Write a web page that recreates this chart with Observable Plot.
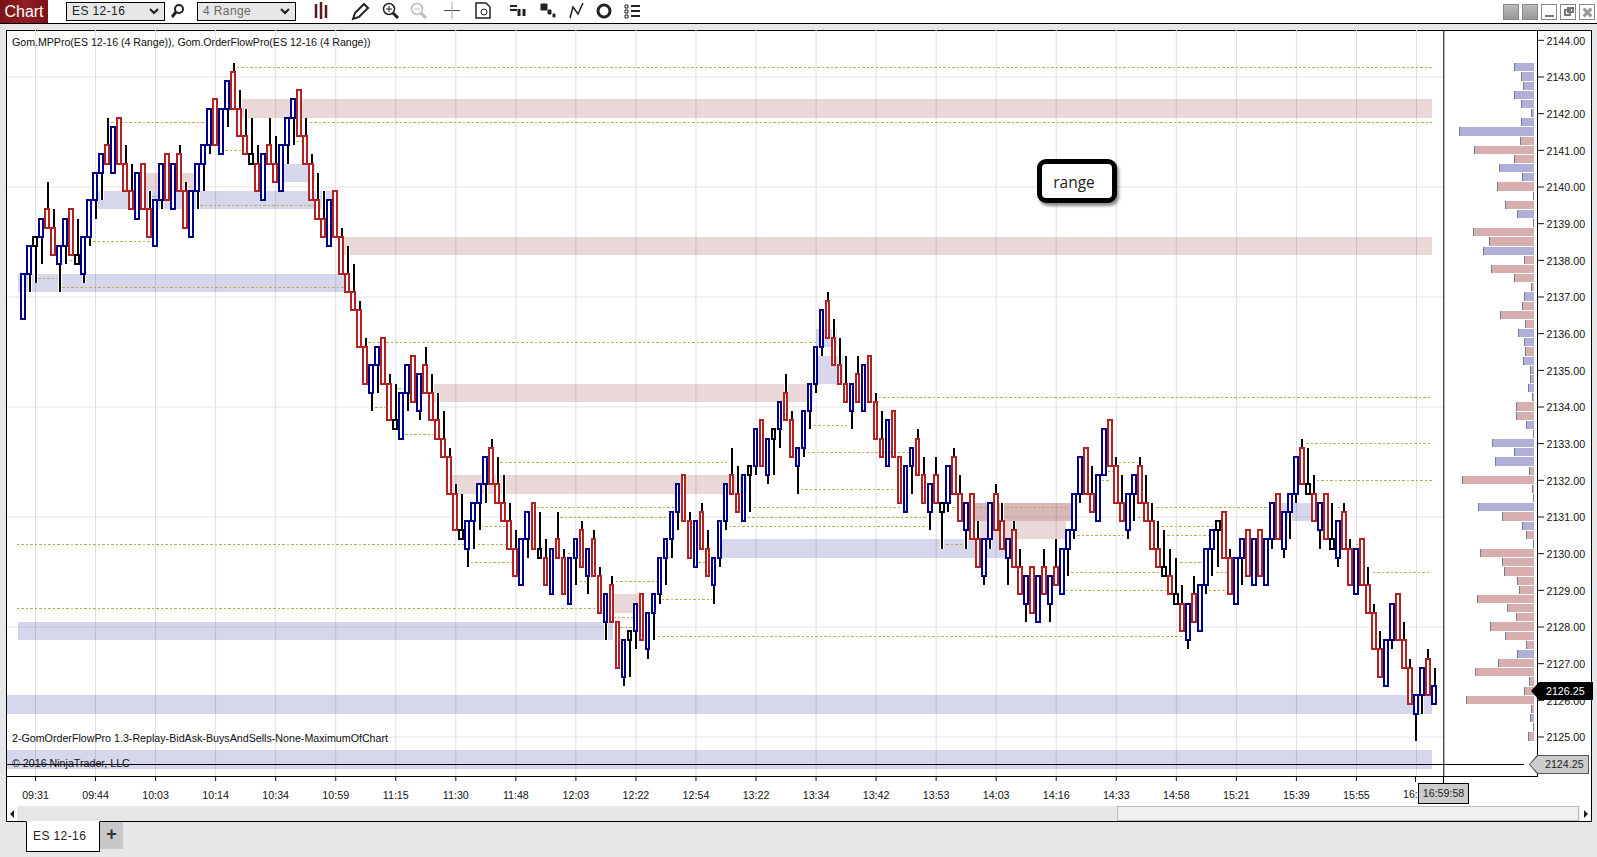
<!DOCTYPE html>
<html>
<head>
<meta charset="utf-8">
<script src="https://cdn.jsdelivr.net/npm/d3@7"></script>
<script src="https://cdn.jsdelivr.net/npm/@observablehq/plot@0.6"></script>
<style>
html,body{margin:0;padding:0;width:1597px;height:857px;overflow:hidden;background:#e6e7e8;font-family:"Liberation Sans",Arial,sans-serif;color:#000}
.a{position:absolute;box-sizing:border-box}
#plot{position:absolute;left:0;top:0}
#plot svg{display:block}
.t{position:absolute;font-size:10.68px;white-space:pre;line-height:12px;color:#111}
</style>
</head>
<body>
<div class="a" style="left:0;top:0;width:1597px;height:24px;background:#fff;border-bottom:1px solid #000"></div>
<div class="a" style="left:0;top:0;width:48px;height:23px;background:linear-gradient(90deg,#7a1216,#8e2024 50%,#7a1216);color:#fff;font-size:16px;line-height:23px;text-align:center">Chart</div>
<div class="a" style="left:66px;top:2px;width:99px;height:19px;background:#e6e7e8;border:1px solid #000;font-size:12px;line-height:17px;padding-left:5px;letter-spacing:.4px;color:#222">ES 12-16</div>
<div class="a" style="left:197px;top:2px;width:99px;height:19px;background:#e6e7e8;border:1px solid #000;font-size:12px;line-height:17px;padding-left:5px;letter-spacing:.4px;color:#666">4 Range</div>
<svg class="a" style="left:0;top:0" width="1597" height="23" fill="none" stroke="#222">
  <path d="M150 9l4 4 4-4M281 9l4 4 4-4" stroke-width="2"/>
  <circle cx="179" cy="9" r="4" stroke-width="2"/><path d="M176 12l-4 5" stroke-width="3"/>
  <path d="M316 4v14M321 2v17M326 5v13" stroke="#5a1a20" stroke-width="2.5"/>
  <path d="M353 19l2-6 9-9 4 4-9 9z" stroke-width="2"/>
  <circle cx="389" cy="9" r="5.5" stroke-width="1.5"/><path d="M393 13l5 5" stroke-width="3"/><path d="M386 9h6M389 6v6"/>
  <circle cx="417" cy="9" r="5.5" stroke="#bbb" stroke-width="1.5"/><path d="M421 13l5 5" stroke="#bbb" stroke-width="3"/><path d="M414 9h6" stroke="#bbb"/>
  <path d="M444 10.5h16" stroke="#444"/><path d="M452 2v17" stroke="#9ab"/>
  <path d="M476 3h10l4 4v11h-14z" stroke-width="1.5"/><circle cx="484" cy="12" r="3"/>
  <path d="M510 6h7M510 10h7" stroke-width="2"/><path d="M519 9v7M524 9v7" stroke-width="3"/>
  <path d="M541 4h6v6h-6zM548 10h3v4h-3zM553 14h2v3h-2z" fill="#222" stroke-width="1"/>
  <path d="M570 18l3-11 5 7 5-11" stroke-width="1.5"/>
  <circle cx="604" cy="11" r="6" stroke-width="3"/>
  <path d="M625 5h3v3h-3zM625 10h3v3h-3zM625 15h3v3h-3z" stroke-width="1"/><path d="M631 6h9M631 11h9M631 16h9" stroke-width="2"/>
</svg>
<div class="a" style="left:1503px;top:4px;width:16px;height:16px;background:linear-gradient(#bbb,#999);border:1px solid #888"></div>
<div class="a" style="left:1522px;top:4px;width:16px;height:16px;background:linear-gradient(#bbb,#999);border:1px solid #888"></div>
<div class="a" style="left:1541px;top:4px;width:16px;height:16px;background:#fff;border:1px solid #888"><div class="a" style="left:3px;top:10px;width:9px;height:2px;background:#777"></div></div>
<div class="a" style="left:1560px;top:4px;width:16px;height:16px;background:#fff;border:1px solid #888"><div class="a" style="left:3px;top:4px;width:7px;height:7px;border:2px solid #777"></div><div class="a" style="left:6px;top:2px;width:7px;height:6px;border:2px solid #777"></div></div>
<div class="a" style="left:1579px;top:4px;width:16px;height:16px;background:#fff;border:1px solid #888"><div class="a" style="left:2px;top:6px;width:11px;height:3px;background:#999;transform:rotate(45deg)"></div><div class="a" style="left:2px;top:6px;width:11px;height:3px;background:#999;transform:rotate(-45deg)"></div></div>

<!-- chart window -->
<div class="a" style="left:6px;top:30px;width:1586px;height:792px;background:#fff;border:1px solid #000"></div>
<div class="a" style="left:7px;top:806px;width:1584px;height:15px;background:#e6e6e6"></div>
<div class="a" style="left:1117px;top:806px;width:462px;height:15px;background:#f0f0f0;border:1px solid #bbb"></div>
<div class="a" style="left:7px;top:806px;width:10px;height:15px;background:#fff"></div>
<div class="a" style="left:1580px;top:806px;width:11px;height:15px;background:#fff"></div>
<div class="a" style="left:10px;top:810px;border:4px solid transparent;border-right:4px solid #222;border-left:0"></div>
<div class="a" style="left:1584px;top:810px;border:4px solid transparent;border-left:4px solid #222;border-right:0"></div>
<div class="a" style="left:6px;top:776px;width:1532px;height:1px;background:#000"></div>
<div class="a" style="left:1537px;top:30px;width:1px;height:747px;background:#000"></div>
<div class="a" style="left:1443px;top:776px;width:1px;height:7px;background:#000"></div>

<div id="plot"></div>

<div class="t" style="left:12px;top:36px;letter-spacing:-.04px">Gom.MPPro(ES 12-16 (4 Range)), Gom.OrderFlowPro(ES 12-16 (4 Range))</div>
<div class="t" style="left:12px;top:732px">2-GomOrderFlowPro 1.3-Replay-BidAsk-BuysAndSells-None-MaximumOfChart</div>
<div class="t" style="left:12px;top:757px">© 2016 NinjaTrader, LLC</div>

<div class="a" style="left:1037px;top:159px;width:80px;height:44px;background:#fff;border:5px solid #000;border-radius:9px;box-shadow:2px 3px 3px rgba(0,0,0,.45);font:15.5px/36px 'Open Sans',sans-serif;text-align:center;padding-right:6px;color:#222">range</div>

<div class="a" style="left:1531px;top:682px;width:62px;height:18px;background:#000;clip-path:polygon(0 50%,8px 0,100% 0,100% 100%,8px 100%);color:#fff;font-size:10.68px;line-height:18px;padding-left:15px">2126.25</div>
<div class="a" style="left:1529px;top:755px;width:60px;height:19px;background:#555;clip-path:polygon(0 50%,8px 0,100% 0,100% 100%,8px 100%)"></div>
<div class="a" style="left:1530px;top:756px;width:58px;height:17px;background:#ccc;clip-path:polygon(0 50%,8px 0,100% 0,100% 100%,8px 100%);font-size:10.68px;line-height:17px;padding-left:15px;color:#222">2124.25</div>

<div class="a" style="left:100px;top:822px;width:23px;height:27px;background:#c8c8c8;font-size:18px;font-weight:bold;line-height:25px;text-align:center;color:#333">+</div>
<div class="a" style="left:26px;top:821px;width:74px;height:31px;background:#fff;border:1px solid #000;border-top:1px solid #fff;font-size:12px;line-height:28px;padding-left:6px;letter-spacing:.4px;color:#222">ES 12-16</div>

<script>
// Prices are quoted above this base level.
const base = 2100;
const opens = [36.5,37.75,38.5,38.75,39.25,38.75,38,38.5,39.25,38,37.75,38.75,39.75,40.5,41,40.5,41.75,40.5,39.75,39.25,40.5,39.25,38.5,39.75,40.75,39.5,40.75,39.75,38.75,40,40.75,41.25,42.25,41,42.25,43,42,41.25,40.75,40.5,39.75,41,40.5,40,41.25,42,42.5,41.25,40.5,39.5,39,38.5,39.75,38.5,37.5,37,36.5,35.5,34.5,35.25,35.75,34.5,33.5,33.25,34.5,35.25,34,35,34.25,33.5,33,32.5,31.5,30.5,30.25,31,31.5,32,32.75,31.75,31.25,30.75,30,29.25,30.5,31.25,30,29.75,29,30.25,29.75,28.75,30,30.5,29.5,30.25,29.25,28.25,29,28,26.75,27.75,28,28.75,27.5,28.5,29,30,30.5,31.25,32,30.75,29.75,31,30,29.25,30,31,32,31.5,31,32.25,32.5,33.5,32.25,33.25,33.5,34.25,33.5,32.5,33,34,34.75,35.75,36.75,35.75,35,34.5,34,34.75,34,35.25,34,33,32.5,33.75,32.5,31.25,32.5,33,32,31.25,32,31.25,31.5,32.5,31.5,30.75,31.5,30.25,29.5,30.5,31.5,30.75,30,30.5,29.5,28.75,29.5,28.25,29.5,28.75,29.5,29,30.25,30.75,31.75,32.75,31.5,31,32.25,33.5,32.25,31.25,30.75,31.75,32.25,31.25,30.75,30,29.5,29.25,28.75,28.5,27.75,28.75,28,29.25,30.25,30.75,31,29.75,28.75,30,30.5,29.25,30.5,29.25,30.5,31.5,30.25,31.25,31.75,32.75,31.75,31.5,30.75,31.5,30.25,30,31,30,29,30.25,29,28.25,27.25,26.5,27.75,28.75,27.5,26.75,25.75,26.25,27,26];
const closes = [37.5,38.25,38.5,39,39,38.25,38.25,39,38.25,38,38.5,39.5,40.25,40.75,40.75,41.5,40.75,40,39.5,40.25,39.5,38.75,39.5,40.5,39.75,40.5,40,39,39.75,40.5,41,42,41.25,42,42.75,42.25,41.5,41,40.75,40,40.75,40.75,40.25,41,41.75,42.25,41.5,40.75,39.75,39.25,38.75,39.5,38.75,37.75,37.25,36.75,35.75,34.75,35,35.5,34.75,33.75,33.5,34.25,35,34.25,34.75,34.5,33.75,33.25,32.75,31.75,30.75,30.5,30.75,31.25,31.75,32.5,32,31.5,31,30.25,29.5,30.25,31,30.25,30,29.25,30,30,29,29.75,30.25,29.75,30,29.5,28.5,28.75,28.25,27,27.5,27.75,28.5,27.75,28.25,28.75,29.75,30.25,31,31.75,31,30,30.75,30.25,29.5,29.75,30.75,31.75,31.75,31.25,32,32.25,33.25,32.5,33,33.25,34,33.75,32.75,32.75,33.75,34.5,35.5,36.5,36,35.25,34.75,34.25,34.5,34.25,35,34.25,33.25,32.75,33.5,32.75,31.5,32.25,32.75,32.25,31.5,31.75,31.5,31.25,32.25,31.75,31,31.25,30.5,29.75,30.25,31.25,30.75,30.25,30.25,29.75,29,29.25,28.5,29.25,29,29.25,29.25,30,30.5,31.5,32.5,31.75,31.25,32,33.25,32.5,31.5,31,31.5,32,31.5,31,30.25,29.75,29.5,29,28.75,28,28.5,28.25,29,30,30.5,30.75,30,29,29.75,30.25,29.5,30.25,29.5,30.25,31.25,30.5,31,31.5,32.5,32,31.75,31,31.25,30.5,30.25,30.75,30.25,29.25,30,29.25,28.5,27.5,26.75,27.5,28.5,27.75,27,26,26,26.75,26.25,26.25];
const highs = [37.5,38.25,38.5,39,40,39.25,38.25,39,39.25,39,38.5,39.5,40.25,40.75,41.75,41.5,41.75,41,40.5,40.25,40.5,39.75,39.5,40.5,40.75,40.5,41,40,39.75,40.5,41,42,42.25,42,42.75,43.25,42.5,42,41.75,41,40.75,41.75,41.25,41,41.75,42.25,42.5,41.75,40.75,40.25,39.75,39.5,39.75,38.75,38.25,37.75,36.75,35.75,35,35.5,35.75,34.75,34.5,34.25,35,35.25,34.75,35.5,34.75,34.25,33.75,32.75,31.75,31.5,30.75,31.25,31.75,32.5,33,32.5,32,31.25,30.5,30.25,31,31.25,31,30.25,30,31,30,29.75,30.25,30.75,30,30.5,29.5,28.75,29.25,28,27.5,27.75,28.5,28.75,28.25,28.75,29.75,30.25,31,31.75,32,31,30.75,31.25,30.5,29.75,30.75,31.75,32.75,32.25,32,32.25,33.25,33.5,33,33.25,34,34.75,33.75,32.75,33.75,34.5,35.5,36.5,37,36.25,35.75,35.25,34.5,35.25,35,35.25,34.25,33.75,33.5,33.75,32.5,32.25,32.75,33.25,32.5,31.75,32.5,31.25,32.25,32.75,32,31.25,31.5,30.75,30.25,31.25,31.75,31.25,30.25,30.75,30,29.25,29.5,29.25,30,29.25,30.25,30,30.5,31.5,32.5,32.75,32.25,32,33.25,33.5,32.5,32,31.5,32,32.5,32,31.25,30.75,30.5,30,29.75,29,28.5,29.25,29,30,30.5,30.75,31,30,29.75,30.25,30.5,30.25,30.5,30.25,31.25,31.5,31,31.5,32.5,33,32.75,32,31.25,31.5,31.25,30.75,31.25,30.25,30,30.25,29.5,28.5,27.75,27.5,28.5,28.75,28,27,26,26.75,27.25,26.75];
const lows = [36.5,37.25,37.5,38,39,38.25,37.25,38,38.25,38,37.5,38.5,39.25,39.75,40.75,40.5,40.75,40,39.5,39.25,39.5,38.75,38.5,39.5,39.75,39.5,40,39,38.75,39.5,40,41,41.25,41,41.75,42.25,41.5,41,40.75,40,39.75,40.75,40.25,40,40.75,41.25,41.5,40.75,39.75,39.25,38.75,38.5,38.75,37.75,37.25,36.75,35.75,34.75,34,34.5,34.75,33.75,33.5,33.25,34,34.25,33.75,34.5,33.75,33.25,32.75,31.75,30.75,30.5,29.75,30.25,30.75,31.5,32,31.5,31,30.25,29.5,29.25,30,30.25,30,29.25,29,30,29,28.75,29.25,29.75,29,29.5,28.5,27.75,28.25,27,26.5,26.75,27.5,27.75,27.25,27.75,28.75,29.25,30,30.75,31,30,29.75,30.25,29.5,28.75,29.75,30.75,31.75,31.25,31,31.25,32.25,32.5,32,32.25,33,33.75,32.75,31.75,32.75,33.5,34.5,35.5,36,35.25,34.75,34.25,33.5,34.25,34,34.25,33.25,32.75,32.5,32.75,31.5,31.25,31.75,32.25,31.5,30.75,31.5,30.25,31.25,31.75,31,30.25,30.5,29.75,29.25,30.25,30.75,30.25,29.25,29.75,29,28.25,28.5,28.25,29,28.25,29.25,29,29.5,30.5,31.5,31.75,31.25,31,32.25,32.5,31.5,31,30.5,31,31.5,31,30.25,29.75,29.5,29,28.75,28,27.5,28.25,28,29,29.5,29.75,30,29,28.75,29.25,29.5,29.25,29.5,29.25,30.25,30.5,30,30.5,31.5,32,31.75,31,30.25,30.5,30.25,29.75,30.25,29.25,29,29.25,28.5,27.5,26.75,26.5,27.5,27.75,27,26,25,25.75,26.25,26];

// Zones: kind, low row, high row, first bar, last bar.
const zoneKind  = ["p","p","p","p","p","p","p","p","p","b","b","b","b","b","b","b","b","b","b"];
const zoneLow   = [2142,2138.25,2134.25,2131.75,2128.5,2140,2131,2131,2130.5,2137.25,2139.5,2140.25,2125.75,2124.25,2127.75,2130,2135.75,2134.75,2131];
const zoneHigh  = [2142.25,2138.5,2134.5,2132,2128.75,2140.25,2131.25,2131.25,2130.75,2137.5,2139.75,2140.5,2126,2124.5,2128,2130.25,2136,2135.25,2131.25];
const zoneStart = [36,53,68,71.4,98,20.3,158,158,159,-0.9,12.3,43.3,-2.65,-2.65,-0.9,116.2,132,132.3,209.5];
const zoneEnd   = [234.6,234.6,131.5,120.6,103.5,29,174.6,174.6,173.7,53.7,52,48.7,234.6,234.6,98.3,165.6,135.6,136.6,217.5];

// Dotted price levels.
const dotPrice = [2143.25,2141.75,2141.75,2141,2141.25,2139.5,2139.75,2138.5,2138,2137.5,2137.25,2135.75,2134.5,2134,2133.25,2132.5,2131.25,2131,2130.75,2130.25,2130.25,2129.75,2130,2129.25,2129.25,2128.75,2129.75,2128.5,2128.25,2128,2127.75,2134.25,2133.5,2132.75,2131.75,2131.25,2131.25,2131.25,2131,2130.75,2130.25,2132.5,2132.25,2132,2132,2133,2131,2130.75,2130.5,2130.5,2129.75,2129.5,2129.5,2129.5,2129,2129,2131.25,2130.25];
const dotStart = [35.6,14.7,47,33.7,45.6,29.5,21.5,11.7,7.8,2.5,6.5,57.5,62.5,58.7,63.7,79.5,85.6,89.5,76.2,-1,75.7,74.6,90.7,92.7,98.7,106.4,112.5,-1,98.3,99.5,105.7,142.5,131.7,130.7,129.5,121.7,152.5,188.7,120.7,117.5,153,182.5,180.7,179.7,215.5,213.7,185.7,189.6,175.6,190.6,192.7,174.6,198,224.8,173.7,197.5,219,222];
const dotEnd   = [234.6,30.5,234.6,36.4,46.7,48.7,22.5,21.5,8.7,5.7,53.7,132.3,63.7,60.3,68.3,117.3,108.7,107.5,80.3,73.5,80.7,81.7,91.7,93.7,105.7,114.7,113.7,95.4,101.7,101.7,193.3,234.6,137.3,147.5,145.3,146.2,174,207.5,150.7,150.7,156.7,185.7,181.7,181,234.6,234.6,186.7,198.3,183.3,197.8,196.5,189.5,200.7,234.4,190.6,200.7,220,223];

// Volume profile, top row to bottom row.
const profileTop = 2143.25;
const profileSides = ["b","b","b","b","b","b","b","b","r","r","r","b","b","r","r","r","b","r","r","r","b","r","r","r","r","b","r","r","r","b","b","r","b","b","b","b","r","r","r","b","r","b","b","b","r","r","r","r","b","r","b","r","r","r","r","r","r","r","r","r","r","r","r","r","b","r","r","r","r","r","r","b","r","r"];
const profileVolume = [19.7,12.7,10.7,19.7,12.7,2.7,12.7,74.7,13.7,59.7,19.7,34.7,11.7,36.7,0.7,28.7,16.7,0.7,60.7,44.7,50.7,9.7,42.7,19.7,2.7,9.7,11.7,33.7,8.7,15.7,9.7,8.7,10.7,3.7,3.7,5.7,1.7,17.7,17.7,7.7,0.7,41.7,19.7,38.7,4.7,71.7,1.7,0.5,55.7,31.7,11.7,7.7,0.7,53.7,31.7,29.7,16.7,14.7,56.7,26.7,17.7,43.7,28.7,7.7,16.7,35.7,58.7,4.7,9.7,67.7,2.7,3.7,0.7,5.7];

// Axes.
const priceTicks = d3.range(2125, 2145);
const gridPrices = [2143,2140,2137,2134,2131,2128,2125];
const timeBars = [2,12,22,32,42,52,62,72,82,92,102,112,122,132,142,152,162,172,182,192,202,212,222];
const timeLabels = ["09:31","09:44","10:03","10:14","10:34","10:59","11:15","11:30","11:48","12:03","12:22","12:54","13:22","13:34","13:42","13:53","14:03","14:16","14:33","14:58","15:21","15:39","15:55"];
const lastTimeBar = 232;
const cursorPrice = 2124.25, cursorBar = 236.55;

const colors = {up:"#00008b", down:"#b22222", flat:"#000000", pink:"#8c2828", blue:"#1e1e96"};
const halfTick = 0.125, bodyHalf = 0.31, leftEdge = -2.65, rightEdge = 250, barPx = 1411/235, profileRight = 251.65;

const bars = opens.map((o,i)=>({i, o:o+base, c:closes[i]+base, h:highs[i]+base, l:lows[i]+base}));
const zones = zoneKind.map((k,i)=>({k, lo:zoneLow[i], hi:zoneHigh[i], s:zoneStart[i], e:zoneEnd[i]}));
const dots = dotPrice.map((p,i)=>({p, s:dotStart[i], e:dotEnd[i]}));
const profile = profileVolume.map((v,i)=>({p:profileTop-0.25*i, v, side:profileSides[i]}));

const barColor = d => d.c>d.o ? colors.up : d.c<d.o ? colors.down : colors.flat;

const chart = Plot.plot({
  width:1597, height:857,
  marginTop:30, marginBottom:81, marginLeft:7, marginRight:60,
  style:{background:"transparent", fontFamily:"'Liberation Sans',Arial,sans-serif", fontSize:"10.68px", color:"#111"},
  x:{domain:[0,235], range:[23,1434], axis:null},
  y:{domain:[2124,2144], range:[773.17,39.83], axis:null},
  color:{type:"identity"},
  marks:[
    Plot.ruleX([...timeBars,lastTimeBar],{stroke:"#dfdfe2", strokeWidth:1}),
    Plot.ruleY(gridPrices,{x1:leftEdge, x2:cursorBar, stroke:"#e4e4e6", strokeWidth:1}),
    Plot.rect(zones,{x1:"s", x2:"e", y1:d=>d.lo-halfTick, y2:d=>d.hi+halfTick,
      fill:d=>d.k==="p"?colors.pink:colors.blue, fillOpacity:0.18, shapeRendering:"crispEdges"}),
    Plot.ruleY(dots,{y:"p", x1:"s", x2:"e", stroke:"#b8ae4e", strokeWidth:1, strokeDasharray:"2.5,2", shapeRendering:"crispEdges"}),
    Plot.ruleX(bars,{x:"i", y1:d=>d.l-halfTick, y2:d=>d.h+halfTick, stroke:"#fff", strokeWidth:4, shapeRendering:"crispEdges"}),
    Plot.ruleX(bars,{x:"i", y1:d=>d.l-halfTick, y2:d=>d.h+halfTick, stroke:"#000", strokeWidth:2, shapeRendering:"crispEdges"}),
    Plot.rect(bars,{x1:d=>d.i-bodyHalf, x2:d=>d.i+bodyHalf,
      y1:d=>Math.min(d.o,d.c)-halfTick, y2:d=>Math.max(d.o,d.c)+halfTick,
      fill:"#fff", stroke:barColor, strokeWidth:2, shapeRendering:"crispEdges"}),
    Plot.rect(profile,{x1:d=>profileRight-d.v/barPx, x2:profileRight, y1:d=>d.p-0.11, y2:d=>d.p+0.11,
      fill:d=>d.side==="r"?"#d8aeae":"#b0afd8", shapeRendering:"crispEdges"}),
    Plot.ruleX(profile,{x:d=>profileRight-d.v/barPx, y1:d=>d.p-0.11, y2:d=>d.p+0.11, stroke:"#708090", strokeWidth:1, shapeRendering:"crispEdges"}),
    Plot.ruleY([cursorPrice],{x1:leftEdge, x2:rightEdge, stroke:"#000", strokeWidth:1}),
    Plot.ruleX([cursorBar],{stroke:"#000", strokeWidth:1}),
    Plot.axisY({anchor:"right", ticks:priceTicks, tickFormat:d=>d.toFixed(2), tickSize:6, tickPadding:3, label:null}),
    Plot.axisX({anchor:"bottom", ticks:timeBars, tickFormat:d=>timeLabels[timeBars.indexOf(d)], tickSize:5, tickPadding:10, label:null})
  ]
});
document.getElementById("plot").appendChild(chart);
// Nudge the price labels one pixel down, onto their ticks.
chart.querySelectorAll('g[aria-label="y-axis tick label"] text').forEach(t=>t.setAttribute("dy","1"));
</script>
<div class="t" style="left:1403px;top:788px">16:</div>
<div class="a" style="left:1415px;top:776px;width:1px;height:6px;background:#000"></div>
<div class="a" style="left:1418px;top:783px;width:51px;height:21px;background:#ccc;border:1px solid #000;font-size:10.68px;line-height:19px;text-align:center;color:#222">16:59:58</div>
</body>
</html>
